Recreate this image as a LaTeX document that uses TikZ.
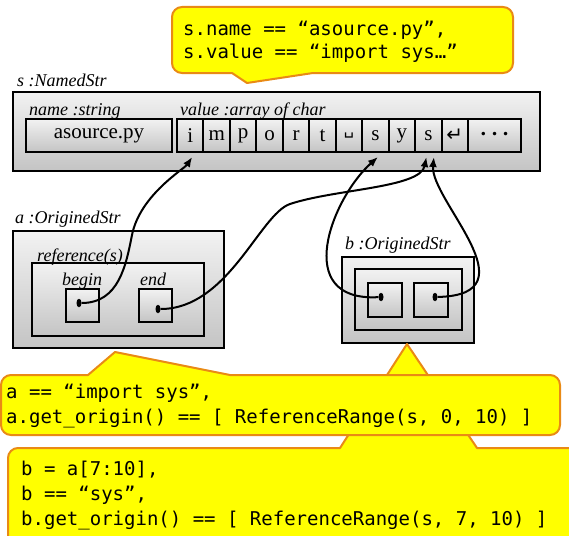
\documentclass[tikz,border=0pt]{standalone}
\usepackage{fontspec}
\setmainfont{Liberation Serif}
\newfontfamily\codefont{DejaVu Sans Mono}
\newfontfamily\glyphfont{DejaVu Sans}
\usepackage{xcolor}
\definecolor{noteyellow}{HTML}{FFFF00}
\definecolor{noteorange}{HTML}{E98A15}
\definecolor{boxtop}{HTML}{F2F2F2}
\definecolor{boxbottom}{HTML}{C4C4C4}
\usepackage{tikz}
\usetikzlibrary{arrows.meta, calc, shapes.geometric}

\begin{document}
\begin{tikzpicture}[x=1pt, y=-1pt,
  objbox/.style={draw, line width=2pt, top color=boxtop, bottom color=boxbottom, inner sep=0pt, outer sep=0pt},
  cellbox/.style={objbox, minimum height=33pt, font=\fontsize{21}{21}\selectfont},
  rolelabel/.style={anchor=base west, inner sep=0pt, font=\itshape\fontsize{18}{18}\selectfont},
  refdot/.style={ellipse, fill=black, inner sep=0pt, minimum width=5pt, minimum height=8.5pt},
  link/.style={line width=2pt, -{Latex[length=10pt, width=8pt]}},
  note/.style={fill=noteyellow, draw=noteorange, line width=2pt, line join=round},
  notetext/.style={anchor=base west, inner sep=0pt, align=left, font=\codefont\fontsize{19}{25}\selectfont}]
  \useasboundingbox (0,0) rectangle (569,535);

  % s : the named string
  \node[objbox, minimum width=527pt, minimum height=79pt] (sobj) at (276.5,131.5) {};
  \node[rolelabel] (slbl) at (17,86) {s :NamedStr};
  \node[rolelabel] (namelbl) at (29,115) {name :string};
  \node[rolelabel] (valuelbl) at (180,115) {value :array of char};
  \node[cellbox, minimum width=146pt] (srcname) at (99,135.5) {asource.py};
  \foreach \ch [count=\k from 0] in {i,m,p,o,r,t,{\glyphfont\fontsize{16}{16}\selectfont ␣},s,y,s,{\glyphfont\fontsize{20}{20}\selectfont ↵}}
    \node[cellbox, minimum width=26.46pt] (c\k) at (177+26.46*\k+13.23,135.5) {\ch};
  \node[cellbox, minimum width=52.92pt] (c11) at (494.54,135.5) {\glyphfont\fontsize{12}{12}\selectfont •\hspace{4pt}•\hspace{4pt}•};

  % a : whole range
  \node[objbox, minimum width=211pt, minimum height=117pt] (aobj) at (118.5,289.5) {};
  \node[rolelabel] (albl) at (15,223) {a :OriginedStr};
  \node[objbox, minimum width=172pt, minimum height=73pt] (aref) at (118,299.5) {};
  \node[rolelabel] (reflbl) at (37,261) {reference(s)};
  \node[objbox, minimum width=33pt, minimum height=33pt] (abegbox) at (82.5,305.5) {};
  \node[objbox, minimum width=33pt, minimum height=33pt] (aendbox) at (155,305.5) {};
  \node[rolelabel] (beglbl) at (62,285) {begin};
  \node[rolelabel] (endlbl) at (140,285) {end};
  \node[refdot] (abeg) at (79,303) {};
  \node[refdot] (aend) at (158,309) {};

  % b : slice of a
  \node[objbox, minimum width=132pt, minimum height=86pt] (bobj) at (408,300) {};
  \node[rolelabel] (blbl) at (345,249) {b :OriginedStr};
  \node[objbox, minimum width=107pt, minimum height=61pt] (bref) at (408.5,299.5) {};
  \node[objbox, minimum width=34pt, minimum height=34pt] (bbegbox) at (385,300) {};
  \node[objbox, minimum width=34pt, minimum height=34pt] (bendbox) at (431,300) {};
  \node[refdot] (bbeg) at (381,297) {};
  \node[refdot] (bend) at (435,297) {};

  % notes (anchored at the baseline of their last line)
  \draw[note] (8,490) [rounded corners=10pt] -- (8,448) [sharp corners] -- (340,448) -- (407,344)
    -- (477,448) [rounded corners=10pt] -- (585,448) -- (585,548) -- (8,548) -- cycle;
  \draw[note] (1,405) [rounded corners=10pt] -- (1,375) [sharp corners] -- (88,375) -- (115,352)
    -- (230,375) [rounded corners=10pt] -- (560,375) -- (560,435) -- (1,435) -- cycle;
  \draw[note] (172,40) [rounded corners=10pt] -- (172,7) -- (513,7) -- (513,73) [sharp corners]
    -- (313,73) -- (247,83) -- (232,73) [rounded corners=10pt] -- (172,73) -- cycle;
  \node[notetext, font=\codefont\fontsize{19}{23}\selectfont] (snote) at (183,58) {s.name == “asource.py”,\\s.value == “import sys…”};
  \node[notetext] (anote) at (6,423) {a == “import sys”,\\a.get\_origin() == [ ReferenceRange(s, 0, 10) ]};
  \node[notetext] (bnote) at (21,525) {b = a[7:10],\\b == “sys”,\\b.get\_origin() == [ ReferenceRange(s, 7, 10) ]};

  % references into the char array
  \draw[link] (abeg) .. controls +(40,0) and +(-6,30) .. (132,235)
    .. controls +(8,-40) and +(-8,12) .. ($(c0.south)+(2,5)$);
  \draw[link] (aend) .. controls +(70,0) and +(-30,10) .. (290,204)
    .. controls +(45,-15) and +(-6,31) .. ($(c9.south)+(-2,5)$);
  \draw[link] (bbeg) .. controls +(-90,5) and +(-46,41) .. ($(c7.south)+(2.5,5)$);
  \draw[link] (bend) .. controls +(100,-2) and +(-4,43) .. ($(c9.south)+(5.5,5)$);
\end{tikzpicture}
\end{document}
